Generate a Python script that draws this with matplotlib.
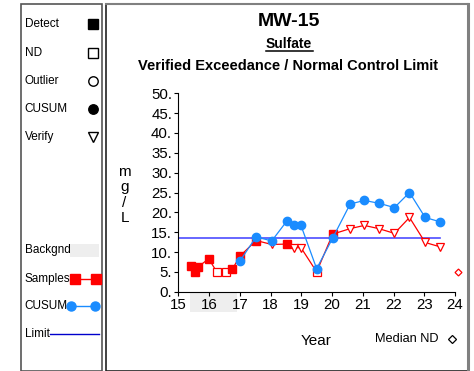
import numpy as np
import matplotlib
matplotlib.use('Agg')
import matplotlib.pyplot as plt
from matplotlib.patches import Rectangle
from matplotlib.lines import Line2D
import matplotlib.transforms as mtransforms

plt.rcParams['font.family'] = ['Liberation Sans', 'DejaVu Sans']

# sample results (year, mg/L) and marker kind: D = detect, N = non-detect, V = verify
sample_x = [15.40, 15.54, 15.65, 15.99, 16.25, 16.54, 16.75, 17.01, 17.53, 18.04,
            18.52, 18.75, 18.99, 19.50, 20.02, 20.59, 21.05, 21.52, 22.03, 22.52,
            23.03, 23.52]
sample_y = [6.6, 5.0, 6.3, 8.3, 5.0, 5.0, 5.6, 9.0, 12.9, 11.9,
            12.0, 11.1, 11.1, 5.0, 14.5, 15.9, 16.7, 15.9, 14.7, 18.7,
            12.4, 11.3]
sample_kind = ['D', 'D', 'D', 'D', 'N', 'N', 'D', 'D', 'D', 'V',
               'D', 'V', 'V', 'N', 'D', 'V', 'V', 'V', 'V', 'V',
               'V', 'V']

cusum_x = [17.01, 17.53, 18.04, 18.52, 18.75, 18.99, 19.50, 20.02, 20.59, 21.05,
           21.52, 22.03, 22.52, 23.03, 23.52]
cusum_y = [7.8, 13.8, 12.8, 17.7, 16.7, 16.7, 5.8, 13.5, 22.1, 23.0,
           22.3, 21.2, 25.0, 18.7, 17.6]

limit_value = 13.5
limit_x = [15.0, 23.5]
backgnd_x = [15.38, 16.92]
median_nd_x = 24.09
median_nd_y = 5.0

x_ticks = list(range(15, 25))
y_ticks = list(range(0, 55, 5))

RED = '#ff0000'
BLUE = '#1a8cff'

W, H = 474, 371
fig = plt.figure(figsize=(W / 100, H / 100), dpi=100)

def fx(px):
    return px / W

def fy(py):
    return 1 - py / H

# panel frames
fig.patches.append(Rectangle((fx(20.7), fy(371)), fx(102.5 - 20.7), fy(4) - fy(371),
                             transform=fig.transFigure, fill=False, edgecolor='#555555', lw=1.2))
fig.patches.append(Rectangle((fx(106), fy(371)), fx(467.5 - 106), fy(4) - fy(371),
                             transform=fig.transFigure, fill=False, edgecolor='#222222', lw=1.2))
fig.add_artist(Line2D([fx(468), fx(468)], [fy(4), fy(371)], transform=fig.transFigure,
                      color='#808080', lw=2.2))
fig.add_artist(Line2D([fx(106), fx(468)], [fy(4), fy(4)], transform=fig.transFigure,
                      color='#808080', lw=1.5))

# left legend panel
lx = fx(24.5)
leg_fs = 8.5
for label, py, mk, fill in [('Detect', 24.3, 's', True), ('ND', 52.7, 's', False),
                            ('Outlier', 80.7, 'o', False), ('CUSUM', 109, 'o', True),
                            ('Verify', 137, 'v', False)]:
    fig.text(lx, fy(py), label, fontsize=leg_fs, va='center', ha='left')
    fig.add_artist(Line2D([fx(92.7)], [fy(py)], transform=fig.transFigure, marker=mk,
                          markersize=6.8 if mk != 'v' else 7.2,
                          markerfacecolor='black' if fill else 'white',
                          markeredgecolor='black', markeredgewidth=1.0, linestyle='none'))

fig.text(lx, fy(250), 'Backgnd', fontsize=leg_fs, va='center', ha='left')
fig.patches.append(Rectangle((fx(70), fy(257)), fx(29), fy(244) - fy(257),
                             transform=fig.transFigure, facecolor='#eeeeee', edgecolor='none'))
fig.text(lx, fy(278.7), 'Samples', fontsize=leg_fs, va='center', ha='left')
fig.add_artist(Line2D([fx(74.7), fx(95.7)], [fy(278.7), fy(278.7)], transform=fig.transFigure,
                      color=RED, lw=1.0, marker='s', markersize=6.5))
fig.text(lx, fy(306), 'CUSUM', fontsize=leg_fs, va='center', ha='left')
fig.add_artist(Line2D([fx(71), fx(95.3)], [fy(306), fy(306)], transform=fig.transFigure,
                      color=BLUE, lw=1.0, marker='o', markersize=6.5))
fig.text(lx, fy(334), 'Limit', fontsize=leg_fs, va='center', ha='left')
fig.add_artist(Line2D([fx(50), fx(99.3)], [fy(334), fy(334)], transform=fig.transFigure,
                      color='#0000cc', lw=1.0))

# titles
cx = fx(288.5)
fig.text(cx, fy(21), 'MW-15', fontsize=14, fontweight='bold', ha='center', va='center')
fig.text(cx, fy(43.5), 'Sulfate', fontsize=10, fontweight='bold', ha='center', va='center')
fig.add_artist(Line2D([fx(265.5), fx(312.5)], [fy(51), fy(51)], transform=fig.transFigure,
                      color='black', lw=1.1))
fig.text(cx, fy(66), 'Verified Exceedance / Normal Control Limit', fontsize=10.5,
         fontweight='bold', ha='center', va='center')

# main axes
ax = fig.add_axes([fx(178.3), fy(291.7), fx(455) - fx(178.3), fy(93.3) - fy(291.7)])
ax.set_xlim(15, 24)
ax.set_ylim(0, 50)
for s in ['top', 'right']:
    ax.spines[s].set_visible(False)
ax.spines['left'].set_linewidth(0.8)
ax.spines['bottom'].set_linewidth(0.8)
ax.set_xticks(x_ticks)
ax.set_xticklabels([str(t) for t in x_ticks])
ax.set_yticks(y_ticks)
ax.set_yticklabels([f'{t}.' for t in y_ticks])
ax.tick_params(axis='both', labelsize=10.8, length=3, width=0.8, pad=1.5)

# background period shading below axis
trans = mtransforms.blended_transform_factory(ax.transData, ax.transAxes)
ax.add_patch(Rectangle((backgnd_x[0], -0.103), backgnd_x[1] - backgnd_x[0], 0.103,
                       transform=trans, facecolor='#eeeeee', edgecolor='none',
                       clip_on=False, zorder=0))

ax.plot(limit_x, [limit_value, limit_value], color='#4d4dff', lw=1.2, zorder=2)

ax.plot(sample_x, sample_y, color=RED, lw=0.9, zorder=3)
for x, y, k in zip(sample_x, sample_y, sample_kind):
    if k == 'D':
        ax.plot(x, y, marker='s', markersize=6, color=RED, zorder=4)
    elif k == 'N':
        ax.plot(x, y, marker='s', markersize=5.8, markerfacecolor='white',
                markeredgecolor=RED, markeredgewidth=0.9, zorder=4)
    else:
        ax.plot(x, y, marker='v', markersize=5.8, markerfacecolor='white',
                markeredgecolor=RED, markeredgewidth=0.9, zorder=4)

ax.plot(cusum_x, cusum_y, color=BLUE, lw=0.9, marker='o', markersize=6, zorder=5)

ax.plot(median_nd_x, median_nd_y, marker='D', markersize=3.5, markerfacecolor='white',
        markeredgecolor=RED, markeredgewidth=0.9, clip_on=False, zorder=5)

# axis labels
for ch, py in zip(['m', 'g', '/', 'L'], [172, 187.5, 203, 218]):
    fig.text(fx(124.5), fy(py), ch, fontsize=11, ha='center', va='center')
fig.text(fx(316), fy(341), 'Year', fontsize=11, ha='center', va='center')
fig.text(fx(407), fy(339), 'Median ND', fontsize=9.2, ha='center', va='center')
fig.add_artist(Line2D([fx(452)], [fy(339)], transform=fig.transFigure, marker='D',
                      markersize=3.8, markerfacecolor='white', markeredgecolor='black',
                      markeredgewidth=0.9, linestyle='none'))

fig.savefig('out.png', dpi=100)
